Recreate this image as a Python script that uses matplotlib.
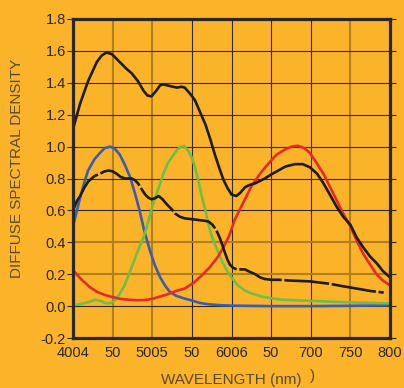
import matplotlib
matplotlib.use("Agg")
import matplotlib.pyplot as plt

# values (wavelength nm, density)
top_nm = [400, 409, 419, 430, 436, 442, 449, 459, 467, 474, 482, 489, 494, 499, 505, 510, 514,
          522, 531, 537, 541, 548, 554, 560, 567, 573, 579, 585, 590, 595, 600, 606, 611, 617,
          623, 630, 636, 642, 650, 659, 668, 680, 690, 699, 708, 716, 724, 733, 741, 750, 758,
          766, 775, 783, 791, 800]
top_val = [1.11, 1.27, 1.41, 1.53, 1.57, 1.59, 1.58, 1.53, 1.49, 1.46, 1.41, 1.35, 1.32, 1.315,
           1.35, 1.385, 1.39, 1.38, 1.37, 1.375, 1.37, 1.33, 1.29, 1.22, 1.14, 1.05, 0.95, 0.86,
           0.79, 0.74, 0.70, 0.69, 0.71, 0.745, 0.76, 0.77, 0.785, 0.80, 0.825, 0.85, 0.875, 0.89,
           0.89, 0.87, 0.83, 0.77, 0.70, 0.62, 0.56, 0.51, 0.43, 0.37, 0.31, 0.27, 0.22, 0.18]

low_nm = [400, 405, 409, 414, 419, 427, 434, 440, 445, 450, 455, 460, 466, 474, 478, 482, 487,
          491, 495, 499, 503, 508, 513, 518, 524, 529, 535, 541, 550, 558, 566, 571, 576, 581,
          585, 588, 592, 595, 598, 602, 607, 612, 617, 623, 630, 636, 642, 650, 660, 674, 699,
          724, 740, 758, 775, 792]
low_val = [0.60, 0.66, 0.69, 0.74, 0.78, 0.815, 0.83, 0.845, 0.85, 0.845, 0.83, 0.81, 0.80, 0.80,
           0.79, 0.77, 0.73, 0.70, 0.68, 0.67, 0.675, 0.69, 0.67, 0.64, 0.61, 0.58, 0.56, 0.55,
           0.545, 0.54, 0.535, 0.53, 0.51, 0.475, 0.43, 0.39, 0.33, 0.29, 0.26, 0.24, 0.23, 0.23,
           0.23, 0.215, 0.20, 0.18, 0.17, 0.165, 0.165, 0.16, 0.155, 0.14, 0.125, 0.11, 0.095, 0.085]

blue_nm = [400, 405, 409, 414, 419, 427, 434, 440, 447, 453, 459, 465, 472, 478, 484, 490, 497,
           503, 510, 516, 522, 530, 539, 550, 560, 570, 585, 600, 650, 700, 750, 800]
blue_val = [0.50, 0.60, 0.68, 0.77, 0.85, 0.92, 0.96, 0.99, 1.00, 0.985, 0.95, 0.89, 0.81, 0.71,
            0.60, 0.47, 0.35, 0.26, 0.18, 0.13, 0.09, 0.065, 0.05, 0.035, 0.02, 0.012, 0.006,
            0.003, 0.0, 0.0, 0.002, 0.005]

green_nm = [400, 407, 413, 420, 428, 432, 436, 440, 445, 450, 453, 458, 464, 470, 476, 482, 489,
            495, 501, 508, 514, 520, 527, 532, 537, 541, 546, 550, 554, 558, 562, 567, 571, 575,
            579, 583, 588, 594, 600, 608, 616, 625, 638, 651, 665, 680, 700, 730, 760, 800]
green_val = [0.005, 0.01, 0.017, 0.025, 0.04, 0.035, 0.03, 0.02, 0.017, 0.025, 0.037, 0.07, 0.12,
             0.19, 0.27, 0.35, 0.43, 0.53, 0.64, 0.74, 0.83, 0.90, 0.95, 0.985, 1.0, 1.0, 0.97,
             0.93, 0.87, 0.79, 0.70, 0.60, 0.51, 0.44, 0.39, 0.34, 0.28, 0.225, 0.18, 0.13, 0.10,
             0.08, 0.06, 0.048, 0.04, 0.037, 0.033, 0.027, 0.022, 0.017]

red_nm = [400, 410, 421, 430, 440, 447, 460, 470, 480, 490, 500, 510, 520, 530, 541, 552, 562,
          572, 583, 590, 597, 604, 611, 618, 625, 636, 646, 657, 667, 676, 684, 692, 699, 707,
          716, 724, 733, 741, 750, 758, 766, 775, 783, 791, 800]
red_val = [0.225, 0.17, 0.12, 0.09, 0.07, 0.06, 0.045, 0.04, 0.037, 0.038, 0.045, 0.06, 0.075,
           0.095, 0.11, 0.145, 0.19, 0.24, 0.31, 0.37, 0.44, 0.54, 0.61, 0.68, 0.75, 0.83, 0.89,
           0.95, 0.98, 1.0, 1.005, 0.99, 0.96, 0.90, 0.83, 0.75, 0.66, 0.58, 0.50, 0.41, 0.33,
           0.26, 0.20, 0.16, 0.13]

x_ticks = [400, 450, 500, 550, 600, 650, 700, 750, 800]
x_labels = ["4004", "50", "5005", "50", "6006", "50", "700", "750", "800"]
y_ticks = [-0.2, 0.0, 0.2, 0.4, 0.6, 0.8, 1.0, 1.2, 1.4, 1.6, 1.8]
y_labels = ["-0.2", "0.0", "0.2", "0.4", "0.6", "0.8", "1.0", "1.2", "1.4", "1.6", "1.8"]

bg = "#FBB32A"
ink = "#2a2824"
brown = "#B07F22"

plt.rcParams['font.family'] = ['Liberation Sans', 'DejaVu Sans']

fig = plt.figure(figsize=(4.04, 3.88), dpi=100, facecolor=bg)
ax = fig.add_axes([73/404, 1 - 338/388, 317/404, 319/388], facecolor=bg)
ax.set_xlim(400, 800)
ax.set_ylim(-0.2, 1.8)

# grid, some lines darker/brownish like the scan
for v in x_ticks[1:-1]:
    if v in (450, 500, 750):
        ax.axvline(v, color=brown, lw=1.5, zorder=1)
    else:
        ax.axvline(v, color="#302a1c", lw=0.8, zorder=1)
for v in y_ticks[1:-1]:
    if v in (0.2, 0.4):
        ax.axhline(v, color=brown, lw=1.5, zorder=1)
    else:
        ax.axhline(v, color="#302a1c", lw=0.8, zorder=1)

lw = 1.9
ax.plot(blue_nm, blue_val, color="#3A5DB2", lw=lw, zorder=3, solid_joinstyle="round")
ax.plot(green_nm, green_val, color="#6CC04A", lw=lw, zorder=4, solid_joinstyle="round")
ax.plot(red_nm, red_val, color="#E52A2A", lw=lw, zorder=4, solid_joinstyle="round")
ax.plot(top_nm, top_val, color="#1c1c1c", lw=lw, zorder=5, solid_joinstyle="round")
ax.plot(low_nm, low_val, color="#1c1c1c", lw=lw, zorder=5, dashes=(17, 1.0),
        dash_capstyle="butt", dash_joinstyle="round")

for s in ax.spines.values():
    s.set_color(ink)
    s.set_linewidth(2.3)
    s.set_zorder(6)

ax.set_xticks(x_ticks)
ax.set_xticklabels(x_labels)
ax.set_yticks(y_ticks)
ax.set_yticklabels(y_labels)
ax.tick_params(axis="x", length=0, pad=6, labelsize=10.5, labelcolor=ink)
ax.tick_params(axis="y", length=4, width=0.8, pad=1, labelsize=10.5, labelcolor=ink,
               color=ink, right=True, direction="out")

lab = "#5a4a2a"
fig.text(231/404, 1 - 380/388, "WAVELENGTH (nm)", ha="center", va="center",
         fontsize=11, color=lab)
fig.text(312/404, 1 - 376/388, ")", ha="center", va="center", fontsize=11, color=lab)
fig.text(17/404, 1 - 168/388, "DIFFUSE SPECTRAL DENSITY", ha="center", va="center",
         rotation=90, fontsize=11, color=lab)

fig.savefig("out.png", dpi=100, facecolor=bg)
